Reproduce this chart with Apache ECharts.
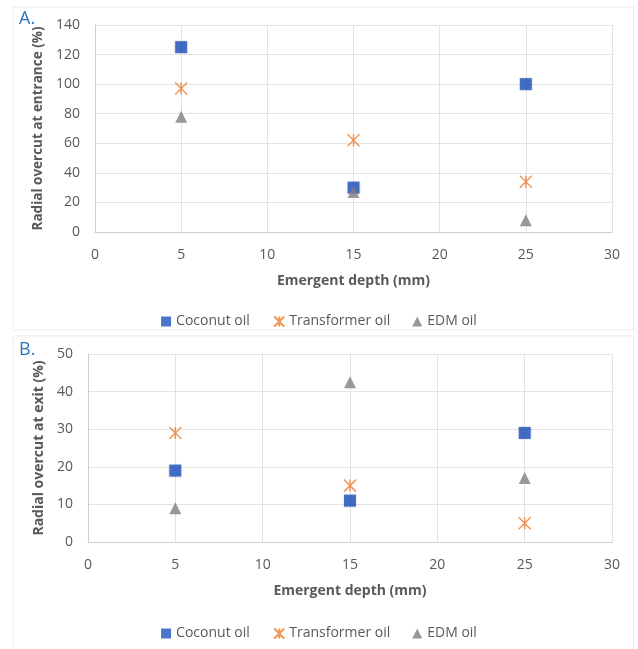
<!DOCTYPE html>
<html>
<head>
<meta charset="utf-8">
<script src="https://cdn.jsdelivr.net/npm/echarts@6/dist/echarts.min.js"></script>
<style>
  html, body { margin: 0; padding: 0; background: #fff; }
  #chart { width: 638px; height: 649px; }
</style>
</head>
<body>
<div id="chart"></div>
<script>
// emergent depth (mm)
const depths = [5, 15, 25]
const seriesNames = ['Coconut oil', 'Transformer oil', 'EDM oil']

// A. radial overcut at entrance (%)
const entranceCoconut = [125, 30, 100]
const entranceTransformer = [97, 62, 34]
const entranceEdm = [78, 27, 8]

// B. radial overcut at exit (%)
const exitCoconut = [19, 11, 29]
const exitTransformer = [29, 15, 5]
const exitEdm = [9, 42.5, 17]

const colors = ['#1F52C0', '#ED7D31', '#7F7F7F']
const starPath = 'path://M0,0L10,10M10,0L0,10M5,0L5,10'
const font = 'Open Sans'

function pairs(vals) {
  return depths.map((d, i) => [d, vals[i]])
}

function makeSeries(name, vals, idx) {
  let s = {
    name: name,
    type: 'scatter',
    xAxisIndex: idx,
    yAxisIndex: idx,
    data: pairs(vals),
    symbolSize: 12
  }
  if (name === 'Coconut oil') {
    s.symbol = 'rect'
    s.itemStyle = { color: colors[0], shadowBlur: 2, shadowColor: 'rgba(0,0,0,0.25)' }
  } else if (name === 'Transformer oil') {
    s.symbol = starPath
    s.itemStyle = { color: 'none', borderColor: colors[1], borderWidth: 1.5 }
  } else {
    s.symbol = 'triangle'
    s.itemStyle = { color: colors[2] }
  }
  return s
}

function xAxis(idx) {
  return {
    type: 'value', gridIndex: idx, min: 0, max: 30, interval: 5,
    name: 'Emergent depth (mm)', nameLocation: 'middle', nameGap: 42,
    nameTextStyle: { color: '#595959', fontWeight: 'bold', fontSize: 14, fontFamily: font },
    axisLine: { show: true, lineStyle: { color: '#c9d0dc' } },
    axisTick: { show: false },
    axisLabel: { color: '#595959', fontSize: 14, fontFamily: font, margin: 16 },
    splitLine: { show: true, lineStyle: { color: '#e3e3e3' } }
  }
}

function yAxis(idx, name, max, interval, gap, size) {
  return {
    type: 'value', gridIndex: idx, min: 0, max: max, interval: interval,
    name: name, nameLocation: 'middle', nameGap: gap, nameRotate: 90,
    nameTextStyle: { color: '#595959', fontWeight: 'bold', fontSize: size, fontFamily: font },
    axisLine: { show: true, lineStyle: { color: '#c9d0dc' } },
    axisTick: { show: false },
    axisLabel: { color: '#595959', fontSize: 14, fontFamily: font, margin: 15 },
    splitLine: { show: true, lineStyle: { color: '#e3e3e3' } }
  }
}

function legend(top) {
  return {
    top: top, left: 'center',
    data: seriesNames,
    itemWidth: 10, itemHeight: 10, itemGap: 22,
    textStyle: { color: '#595959', fontSize: 14, fontFamily: font }
  }
}

const option = {
  backgroundColor: '#fff',
  animation: false,
  title: [
    { text: 'A.', left: 14, top: 5, textStyle: { color: '#2E75B6', fontSize: 18, fontWeight: 'normal', fontFamily: font } },
    { text: 'B.', left: 14, top: 336, textStyle: { color: '#2E75B6', fontSize: 18, fontWeight: 'normal', fontFamily: font } }
  ],
  graphic: [
    { type: 'rect', shape: { x: 13, y: 7, width: 621, height: 323 }, style: { fill: 'none', stroke: '#ececec', lineWidth: 1 }, z: -1 },
    { type: 'rect', shape: { x: 13, y: 336, width: 621, height: 318 }, style: { fill: 'none', stroke: '#ececec', lineWidth: 1 }, z: -1 }
  ],
  legend: [legend(309), legend(621)],
  grid: [
    { left: 95, right: 26, top: 25, height: 207 },
    { left: 88, right: 26, top: 354, height: 188 }
  ],
  xAxis: [xAxis(0), xAxis(1)],
  yAxis: [
    yAxis(0, 'Radial overcut at entrance (%)', 140, 20, 48, 13.5),
    yAxis(1, 'Radial overcut at exit (%)', 50, 10, 41, 14)
  ],
  series: [
    makeSeries('Coconut oil', entranceCoconut, 0),
    makeSeries('Transformer oil', entranceTransformer, 0),
    makeSeries('EDM oil', entranceEdm, 0),
    makeSeries('Coconut oil', exitCoconut, 1),
    makeSeries('Transformer oil', exitTransformer, 1),
    makeSeries('EDM oil', exitEdm, 1)
  ]
}

const chart = echarts.init(document.getElementById('chart'))
chart.setOption(option)
</script>
</body>
</html>
